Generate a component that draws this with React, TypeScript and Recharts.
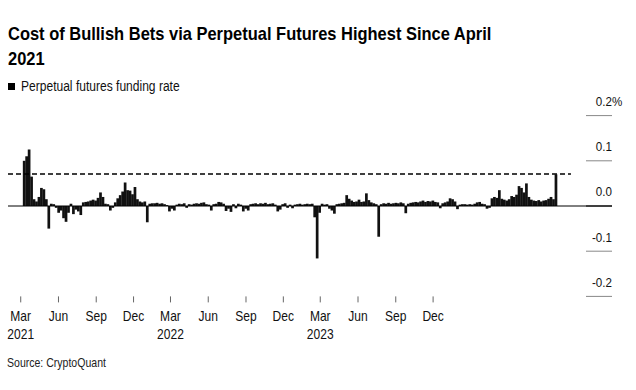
import { BarChart, Bar, XAxis, YAxis, ReferenceLine } from 'recharts'

// funding rate (%), one value per 6-day step, starting 9 days after 1 Mar 2021
const START_DAY = 9
const STEP_DAYS = 6
const FUNDING = [
  0.1, 0.11, 0.125, 0.065, 0.015, 0.01, 0.02, 0.04, 0.037, 0.015,
  -0.05, 0.005, 0.004, -0.004, -0.015, -0.01, -0.027, -0.035, -0.015, 0.005,
  -0.018, -0.008, -0.012, -0.02, 0.008, 0.009, 0.01, 0.012, 0.014, 0.012,
  0.018, 0.03, 0.02, 0.005, 0.004, -0.01, -0.004, 0.008, 0.017, 0.024,
  0.032, 0.052, 0.035, 0.034, 0.026, 0.042, 0.015, 0.01, 0.008, 0.01,
  -0.036, 0.005, 0.006, 0.006, 0.007, 0.005, 0.006, 0.004, 0.002, -0.012,
  -0.006, -0.01, 0.003, 0.005, 0.004, 0.006, -0.004, 0.004, 0.003, 0.005,
  0.006, 0.005, 0.007, 0.008, 0.004, 0.003, -0.01, 0.004, 0.005, 0.009,
  0.008, 0.005, -0.011, -0.006, -0.013, 0.004, -0.005, 0.005, 0.003, -0.012,
  -0.006, -0.01, 0.004, 0.005, 0.006, 0.004, 0.006, 0.005, 0.007, 0.004,
  0.005, 0.006, 0.003, -0.012, -0.008, 0.004, 0.006, -0.004, 0.003, -0.005,
  0.003, 0.004, 0.005, 0.003, 0.004, 0.005, 0.004, 0.005, -0.025, -0.116,
  -0.015, 0.005, 0.003, 0.004, -0.006, -0.01, -0.017, 0.004, 0.005, 0.006,
  0.007, 0.024, 0.016, 0.012, 0.009, 0.01, 0.014, 0.009, 0.01, 0.028,
  0.013, 0.008, 0.006, 0.004, -0.068, 0.004, 0.006, 0.005, 0.007, 0.005,
  0.006, 0.007, 0.006, 0.008, 0.006, -0.016, 0.005, 0.007, 0.008, 0.009,
  0.008, 0.01, 0.012, 0.009, 0.011, 0.01, 0.012, 0.009, 0.008, -0.005,
  0.006, 0.008, 0.01, 0.017, 0.015, 0.01, -0.007, 0.003, 0.004, 0.004,
  0.003, 0.004, 0.003, 0.005, 0.008, 0.009, 0.005, 0.004, -0.006, -0.004,
  0.017, 0.02, 0.018, 0.035, 0.016, 0.014, 0.012, 0.015, 0.022, 0.02,
  0.025, 0.044, 0.04, 0.03, 0.05, 0.02, 0.014, 0.012, 0.011, 0.013,
  0.01, 0.012, 0.013, 0.016, 0.02, 0.015, 0.07,
]

// x ticks: days since 1 Mar 2021
const TICK_DAYS = [0, 92, 184, 275, 365, 457, 549, 640, 730, 822, 914, 1005]
const TICK_MONTHS = ['Mar', 'Jun', 'Sep', 'Dec', 'Mar', 'Jun', 'Sep', 'Dec', 'Mar', 'Jun', 'Sep', 'Dec']
const TICK_YEARS = ['2021', '', '', '', '2022', '', '', '', '2023', '', '', '']
const Y_TICKS = [-0.2, -0.1, 0, 0.1, 0.2]
const LATEST = 0.0708
const DASH_END_DAY = 1341

const data = FUNDING.map((v, i) => ({ day: START_DAY + i * STEP_DAYS, value: v }))

const FONT = "'Liberation Sans', Arial, sans-serif"
const SQUEEZE = 0.86

// horizontally condensed svg text, anchored at x
function Narrow({ x, y, anchor, size, children }: any) {
  return (
    <text
      x={x}
      y={y}
      textAnchor={anchor}
      fontSize={size}
      fill="#111"
      fontFamily={FONT}
      transform={`translate(${x} 0) scale(${SQUEEZE} 1) translate(${-x} 0)`}
    >
      {children}
    </text>
  )
}

function XTick({ x, y, payload }: any) {
  const i = TICK_DAYS.indexOf(payload.value)
  return (
    <g>
      <Narrow x={x} y={y + 19} anchor="middle" size={14}>{TICK_MONTHS[i]}</Narrow>
      {TICK_YEARS[i] && <Narrow x={x} y={y + 37} anchor="middle" size={14}>{TICK_YEARS[i]}</Narrow>}
    </g>
  )
}

function YTick({ x, y, payload }: any) {
  const v = payload.value as number
  const label = v === 0 ? '0.0' : v.toFixed(1)
  return (
    <g>
      <line x1={x - 26} x2={x} y1={y} y2={y} stroke={v === 0 ? '#000' : '#888'} strokeWidth={1} />
      <Narrow x={x} y={y - 9.5} anchor="end" size={13.5}>{label}</Narrow>
      {v === 0.2 && <Narrow x={x} y={y - 9.5} anchor="start" size={13.5}>%</Narrow>}
    </g>
  )
}

// bars drawn touching each other, centred on their date
function DenseBar({ x, y, width, height, fill }: any) {
  const cx = x + width / 2
  const top = height < 0 ? y + height : y
  return <rect x={cx - 1.35} y={top} width={2.7} height={Math.abs(height)} fill={fill} />
}

export default function App() {
  return (
    <div style={{ position: 'absolute', left: 0, top: 0, width: 636, height: 390, background: '#fff', fontFamily: FONT }}>
      <div
        style={{
          position: 'absolute', left: 8, top: 21, width: 640, fontSize: 18.5, fontWeight: 700, lineHeight: '25px',
          color: '#000', transform: 'scaleX(0.89)', transformOrigin: 'left top', whiteSpace: 'nowrap',
        }}
      >
        <div>Cost of Bullish Bets via Perpetual Futures Highest Since April</div>
        <div>2021</div>
      </div>
      <div style={{ position: 'absolute', left: 8, top: 78, display: 'flex', alignItems: 'center', fontSize: 14, color: '#111' }}>
        <span style={{ display: 'inline-block', width: 7, height: 7, background: '#000', marginRight: 6 }} />
        <span style={{ display: 'inline-block', transform: `scaleX(${SQUEEZE})`, transformOrigin: 'left center', whiteSpace: 'nowrap' }}>
          Perpetual futures funding rate
        </span>
      </div>
      <div
        style={{
          position: 'absolute', left: 7, top: 355, fontSize: 13, color: '#222',
          transform: 'scaleX(0.81)', transformOrigin: 'left top', whiteSpace: 'nowrap',
        }}
      >
        Source: CryptoQuant
      </div>
      <BarChart
        width={636}
        height={390}
        data={data}
        margin={{ top: 115.6, right: 0, bottom: 43.6, left: 8 }}
        style={{ position: 'absolute', left: 0, top: 0 }}
      >
        <XAxis
          dataKey="day"
          type="number"
          domain={[-31, 1441]}
          ticks={TICK_DAYS}
          interval={0}
          height={50}
          axisLine={false}
          tickSize={6}
          tickMargin={0}
          tickLine={{ stroke: '#666' }}
          tick={<XTick />}
        />
        <YAxis
          orientation="right"
          width={24}
          domain={[-0.2, 0.2]}
          ticks={Y_TICKS}
          allowDataOverflow
          axisLine={false}
          tickLine={false}
          tickSize={0}
          tickMargin={0}
          tick={<YTick />}
        />
        <Bar dataKey="value" fill="#111" barSize={2} shape={<DenseBar />} isAnimationActive={false} />
        <ReferenceLine y={0} stroke="#000" strokeWidth={1} />
        <ReferenceLine
          segment={[{ x: -31, y: LATEST }, { x: DASH_END_DAY, y: LATEST }]}
          stroke="#000"
          strokeWidth={1.5}
          strokeDasharray="5 3"
        />
      </BarChart>
    </div>
  )
}
